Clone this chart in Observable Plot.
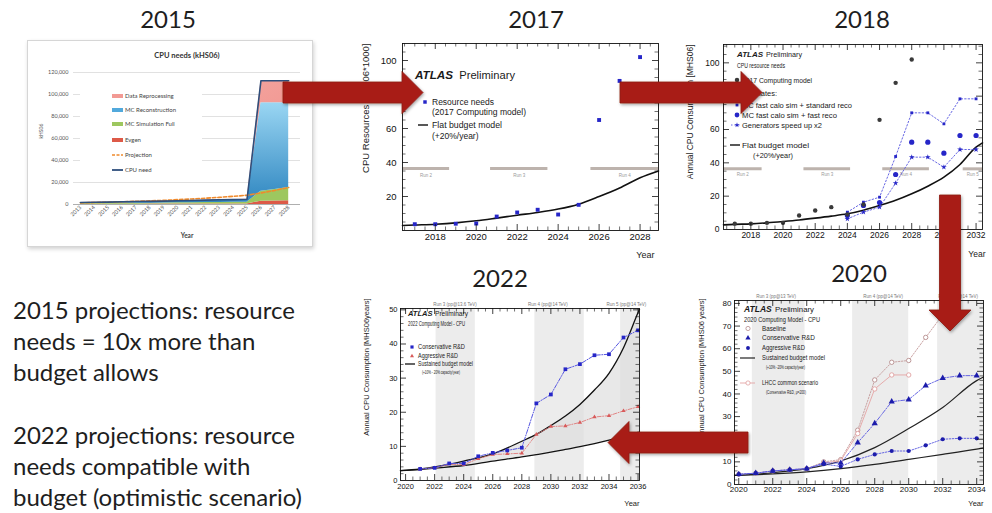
<!DOCTYPE html>
<html>
<head>
<meta charset="utf-8">
<script src="https://cdn.jsdelivr.net/npm/d3@7"></script>
<script src="https://cdn.jsdelivr.net/npm/@observablehq/plot@0.6"></script>
<style>
html, body { margin:0; padding:0; background:#fff; }
#page { position:relative; width:992px; height:513px; overflow:hidden; background:#fff; }
.ttl { position:absolute; font-family: Lato, "Open Sans", sans-serif; font-size:24px; color:#1e1e1e; transform: translate(-50%,-50%); white-space:nowrap; line-height:1; }
.note { position:absolute; left:13px; font-family: Lato, "Open Sans", sans-serif; font-size:24px; color:#1e1e1e; line-height:31px; white-space:nowrap; }
.chart { position:absolute; }
.chart svg { display:block; }
#box15 { position:absolute; left:27px; top:40px; width:286px; height:207px; box-sizing:border-box; border:1px solid #d6d6d6; box-shadow: 1px 2px 4px rgba(0,0,0,0.18); background:#fff; }
#overlay { position:absolute; left:0; top:0; }
</style>
</head>
<body>
<div id="page">
  <div class="ttl" style="left:168px;top:19px">2015</div>
  <div class="ttl" style="left:536px;top:19px">2017</div>
  <div class="ttl" style="left:862px;top:19px">2018</div>
  <div class="ttl" style="left:500px;top:278px">2022</div>
  <div class="ttl" style="left:859px;top:273px">2020</div>
  <div id="box15"></div>
  <div class="chart" id="c15" style="left:27px;top:40px"></div>
  <div class="chart" id="c17" style="left:355px;top:35px"></div>
  <div class="chart" id="c18" style="left:675px;top:35px"></div>
  <div class="chart" id="c22" style="left:350px;top:290px"></div>
  <div class="chart" id="c20" style="left:690px;top:288px"></div>
  <div class="note" style="top:294px">2015 projections: resource<br>needs = 10x more than<br>budget allows</div>
  <div class="note" style="top:419px">2022 projections: resource<br>needs compatible with<br>budget (optimistic scenario)</div>
</div>
<script>
// ================= DATA =================
// --- 2015: CPU needs (kHS06), stacked areas
const years15 = [2013,2014,2015,2016,2017,2018,2019,2020,2021,2022,2023,2024,2025,2026,2027,2028];
const evgen15 = [200,250,250,300,300,350,350,400,400,450,500,500,550,3000,3200,3500];
const mcSim15 = [600,700,700,800,900,900,1000,1100,1200,1300,1400,1500,1600,9000,10500,12000];
const mcReco15 = [800,900,1000,1100,1200,1300,1400,1500,1700,1800,1900,2000,2100,80500,78800,77000];
const reproc15 = [200,200,250,250,300,300,350,350,400,400,450,450,500,20000,20000,20000];
const projection15 = [1500,1800,2100,2500,2900,3300,3800,4400,5000,5700,6500,7400,8400,10500,12800,15500];
const yTicks15 = [0,20000,40000,60000,80000,100000,120000];
const series15 = ["Evgen","MC Simulation Full","MC Reconstruction","Data Reprocessing"];
const legend15 = ["Data Reprocessing","MC Reconstruction","MC Simulation Full","Evgen","Projection","CPU need"];

// --- 2017
const years17 = [2017,2018,2019,2020,2021,2022,2023,2024,2025,2026,2027,2028];
const needs17 = [3.7,3.7,4.0,4.1,8.2,10.6,12.2,9.4,15.1,65,88,102];
const budgetYears17 = [2016.4,2017,2018,2019,2020,2021,2022,2023,2024,2025,2026,2027,2028,2028.9];
const budget17 = [2.9,3.2,3.7,4.5,5.7,7.3,9.0,10.6,12.6,15.5,20,25,31,35];
const runs17 = [{start:2016.4,end:2018.7,label:"Run 2"},{start:2020.7,end:2023.5,label:"Run 3"},{start:2025.6,end:2028.9,label:"Run 4"}];
const runLevel17 = 36.5, runText17 = 32.6;
const xTicks17 = [2018,2020,2022,2024,2026,2028];
const yTicks17 = [20,40,60,80,100];

// --- 2018
const years18 = [2017,2018,2019,2020,2021,2022,2023,2024,2025,2026,2027,2028];
const model2017_18 = [3.5,3.5,4.0,4.0,8.4,11.4,13.4,9.0,15,65.8,88,102];
const scenYears18 = [2024,2025,2026,2027,2028,2029,2030,2031,2032];
const stdReco18 = [10.4,16.4,19.4,43.8,70,70,63.4,78.4,78.4];
const fastReco18 = [8.4,14.4,16.2,33,52.4,52.4,45.8,56.4,56.4];
const genX2_18 = [6.4,10.4,13.4,27.8,43.4,43.4,37.4,48,48];
const budgetYears18 = [2016.3,2017,2018,2019,2020,2021,2022,2023,2024,2025,2026,2027,2028,2029,2030,2031,2032,2032.4];
const budget18 = [2.8,3.1,3.4,4.0,4.8,5.7,6.8,8.0,9.4,11.6,14.4,17.5,21.4,26,31.4,39,49.4,52];
const runs18 = [{start:2016.3,end:2018.7,label:"Run 2"},{start:2021.3,end:2024.2,label:"Run 3"},{start:2026.2,end:2029.1,label:"Run 4"},{start:2031.2,end:2032.4,label:"Run 5"}];
const runLevel18 = 36.4, runText18 = 33;
const xTicks18 = [2018,2020,2022,2024,2026,2028,2030,2032];
const yTicks18 = [0,20,40,60,80,100];

// --- 2022
const years22 = [2021,2022,2023,2024,2025,2026,2027,2028,2029,2030,2031,2032,2033,2034,2035,2036];
const conservative22 = [3.4,3.7,5.0,5.0,7.1,8.1,8.8,9.6,22.6,25.2,32.6,34.1,36.7,37.0,41.9,44.0];
const aggressive22 = [3.4,3.7,4.8,4.6,6.4,7.6,7.8,8.0,13.5,15.8,16.0,17.0,18.6,19.0,20.4,21.6];
const budgetYears22 = [2019.65,2021,2022,2024,2026,2028,2029,2030,2031,2032,2033,2034,2035,2036,2036.1];
const budgetHigh22 = [2.9,3.4,4.0,5.7,7.8,11.5,13.5,16.1,18.9,22.3,26.5,31.4,38.9,49.2,50.2];
const budgetLow22 = [2.9,3.2,3.6,4.4,5.7,6.9,7.6,8.3,9.1,9.9,10.8,11.8,12.9,14.1,14.2];
const bands22 = [{start:2022.1,end:2024.8},{start:2028.9,end:2032.3},{start:2034.8,end:2036.1}];
const runTop22 = [{x:2023.4,label:"Run 3 (pp@13.6 TeV)"},{x:2029.8,label:"Run 4 (pp@14 TeV)"},{x:2035.2,label:"Run 5 (pp@14 TeV)"}];
const xTicks22 = [2020,2022,2024,2026,2028,2030,2032,2034,2036];
const yTicks22 = [0,10,20,30,40,50];

// --- 2020
const years20 = [2020,2021,2022,2023,2024,2025,2026,2027,2028,2029,2030,2031,2032,2033,2034];
const conservative20 = [4.5,5.0,6.0,6.5,7.0,9.5,9.5,18.5,27,36.6,37.5,43.7,47,48.1,48.1];
const aggressive20 = [4.5,5.0,6.0,6.5,7.0,9.0,8.0,11.1,13.3,14.8,14.8,17.3,20,20.4,20.4];
const baselineYears20 = [2020,2021,2022,2023,2024,2025,2026,2027,2028,2029,2030,2031,2032];
const baseline20 = [4.5,5.0,6.0,6.5,7.0,10,11,24,46.2,54,54.8,65,75];
const lhccYears20 = [2025,2026,2027,2028,2029,2030];
const lhcc20 = [9.5,10.5,22.5,42.2,48.4,48.4];
const budgetYears20 = [2019.75,2022,2024,2026,2028,2030,2032,2034,2034.4];
const budgetHigh20 = [4.0,5.2,7.0,10.4,16.3,24.7,34,45.9,47.5];
const budgetLow20 = [4.0,4.7,5.6,7.0,8.9,11.1,13.3,15.6,16.1];
const bands20 = [{start:2020.8,end:2023.9},{start:2026.7,end:2030.0},{start:2031.7,end:2034.4}];
const runTop20 = [{x:2022.2,label:"Run 3 (pp@13 TeV)"},{x:2028.5,label:"Run 4 (pp@14 TeV)"},{x:2032.9,label:"Run 5 (pp@14 TeV)"}];
const xTicks20 = [2020,2022,2024,2026,2028,2030,2032,2034];
const yTicks20 = [0,10,20,30,40,50,60,70,80];

// ================= HELPERS =================
const FONT = "'Liberation Sans', Arial, Helvetica, sans-serif";
const BLUE = "#2626c8", BLUE_L = "#5656e0";
const symbolMap = {circle: d3.symbolCircle, square: d3.symbolSquare, triangle: d3.symbolTriangle, star: d3.symbolStar};

function legendMark(items) {
  return (index, scales, values, dims) => {
    const g = d3.create("svg:g").attr("text-anchor", "start");
    const x0 = dims.marginLeft, y0 = dims.marginTop;
    for (const it of items) {
      const X = x0 + it.x, Y = y0 + it.y;
      if (it.kind === "text" || it.kind === "rich") {
        const t = g.append("text").attr("x", X).attr("y", Y).attr("dy", "0.35em").attr("text-anchor", "start")
          .attr("font-family", FONT).attr("font-size", it.size).attr("fill", it.color || "#1a1a1a");
        if (it.kind === "text") t.text(it.text);
        else for (const p of it.parts) {
          const s = t.append("tspan").text(p.t).attr("font-size", p.size || it.size);
          if (p.bold) s.attr("font-weight", "bold");
          if (p.italic) s.attr("font-style", "italic");
        }
        if (it.bold) t.attr("font-weight", "bold");
        if (it.italic) t.attr("font-style", "italic");
        if (it.w) t.attr("textLength", it.w).attr("lengthAdjust", "spacingAndGlyphs");
      } else if (it.kind === "line") {
        g.append("line").attr("x1", X).attr("x2", X + it.len).attr("y1", Y).attr("y2", Y)
          .attr("stroke", it.color).attr("stroke-width", it.width || 1).attr("stroke-dasharray", it.dash || null);
      } else if (it.kind === "marker") {
        g.append("path").attr("transform", `translate(${X},${Y})`).attr("d", d3.symbol(symbolMap[it.symbol], it.area || 14)())
          .attr("fill", it.fill || "none").attr("stroke", it.stroke || "none").attr("stroke-width", it.sw || 0.8);
      }
    }
    return g.node();
  };
}

function rootChart(c) {
  const W = c.width - c.mL - c.mR, H = c.height - c.mT - c.mB;
  const eq = (a, b) => Math.abs(a - b) < 1e-6;
  const inside = (v, d) => v > d[0] + 1e-6 && v < d[1] - 1e-6;
  const xMajor = c.xMajor.filter(v => inside(v, c.xDomain));
  const yMajor = c.yMajor.filter(v => inside(v, c.yDomain));
  const xMinor = d3.range(Math.floor(c.xDomain[0]), c.xDomain[1], c.xMinorStep).filter(v => inside(v, c.xDomain) && !c.xMajor.some(m => eq(m, v)));
  const yMinor = d3.range(0, c.yDomain[1], c.yMinorStep).filter(v => inside(v, c.yDomain) && !c.yMajor.some(m => eq(m, v)));
  const M = 6, m = 3.5;
  return Plot.plot({
    width: c.width, height: c.height,
    marginLeft: c.mL, marginRight: c.mR, marginTop: c.mT, marginBottom: c.mB,
    style: {background: "transparent", overflow: "visible", fontFamily: FONT, fontSize: c.tickFont + "px", color: "#111"},
    x: {domain: c.xDomain, ticks: c.xMajor, tickFormat: d => String(d), tickSize: 0, tickPadding: c.xPad, label: null},
    y: {domain: c.yDomain, ticks: c.yLabels, tickFormat: d => String(d), tickSize: 0, tickPadding: c.yPad, label: null},
    marks: [
      ...(c.back || []),
      ...c.marks,
      Plot.tickX(xMajor, {x: d => d, insetTop: H - M, strokeWidth: 0.8}),
      Plot.tickX(xMajor, {x: d => d, insetBottom: H - M, strokeWidth: 0.8}),
      Plot.tickX(xMinor, {x: d => d, insetTop: H - m, strokeWidth: 0.6}),
      Plot.tickX(xMinor, {x: d => d, insetBottom: H - m, strokeWidth: 0.6}),
      Plot.tickY(yMajor, {y: d => d, insetRight: W - M, strokeWidth: 0.8}),
      Plot.tickY(yMajor, {y: d => d, insetLeft: W - M, strokeWidth: 0.8}),
      Plot.tickY(yMinor, {y: d => d, insetRight: W - m, strokeWidth: 0.6}),
      Plot.tickY(yMinor, {y: d => d, insetLeft: W - m, strokeWidth: 0.6}),
      Plot.frame({stroke: "#111", strokeWidth: 0.9}),
      Plot.text([c.yTitle], {frameAnchor: "top-left", rotate: -90, textAnchor: "end", dx: c.yTitleDx, dy: c.yTitleDy || 0, fontSize: c.yTitleSize, fill: "#222"}),
      Plot.text(["Year"], {frameAnchor: "bottom-right", textAnchor: "end", dx: c.yearDx || 0, dy: c.yearDy, fontSize: c.yearSize, fill: "#222"}),
      legendMark(c.legend)
    ]
  });
}

// ================= 2015 =================
(function () {
  const rows = [];
  years15.forEach((yr, i) => {
    rows.push({year: yr, series: "Evgen", value: evgen15[i]});
    rows.push({year: yr, series: "MC Simulation Full", value: mcSim15[i]});
    rows.push({year: yr, series: "MC Reconstruction", value: mcReco15[i]});
    rows.push({year: yr, series: "Data Reprocessing", value: reproc15[i]});
  });
  const total15 = years15.map((yr, i) => evgen15[i] + mcSim15[i] + mcReco15[i] + reproc15[i]);
  const defs = () => {
    const d = d3.create("svg:defs");
    const g1 = d.append("linearGradient").attr("id", "g15reco").attr("x1", 0).attr("y1", 0).attr("x2", 0).attr("y2", 1);
    g1.append("stop").attr("offset", "0%").attr("stop-color", "#9ad6f3");
    g1.append("stop").attr("offset", "100%").attr("stop-color", "#2f86c0");
    const g2 = d.append("linearGradient").attr("id", "g15repro").attr("x1", 0).attr("y1", 0).attr("x2", 1).attr("y2", 1);
    g2.append("stop").attr("offset", "0%").attr("stop-color", "#f7b2ad");
    g2.append("stop").attr("offset", "100%").attr("stop-color", "#ee8a84");
    return d.node();
  };
  const swatch = {"Data Reprocessing": "#f29a94", "MC Reconstruction": "#52a9dc", "MC Simulation Full": "#9dc75f", "Evgen": "#dd5a48"};
  const legendBox = () => {
    const g = d3.create("svg:g").attr("text-anchor", "start");
    g.append("rect").attr("x", 53).attr("y", 46).attr("width", 122).attr("height", 94).attr("fill", "#fff");
    legend15.forEach((name, i) => {
      const y = [56, 70, 84, 100, 115, 130][i];
      if (name === "Projection") {
        g.append("line").attr("x1", 85).attr("x2", 96).attr("y1", y).attr("y2", y).attr("stroke", "#f08a2c").attr("stroke-width", 1.6).attr("stroke-dasharray", "3,1.5");
      } else if (name === "CPU need") {
        g.append("line").attr("x1", 85).attr("x2", 96).attr("y1", y).attr("y2", y).attr("stroke", "#2e4f7c").attr("stroke-width", 1.8);
      } else {
        g.append("rect").attr("x", 85).attr("y", y - 2).attr("width", 11).attr("height", 4).attr("fill", swatch[name]);
      }
      g.append("text").attr("x", 98).attr("y", y).attr("dy", "0.35em").attr("text-anchor", "start").attr("font-size", 6).attr("fill", "#444")
        .attr("font-family", "Lato, sans-serif").text(name);
    });
    return g.node();
  };
  const p = Plot.plot({
    width: 286, height: 207, marginTop: 32, marginBottom: 43, marginLeft: 46, marginRight: 13,
    style: {background: "transparent", overflow: "visible", fontFamily: "Lato, 'Open Sans', sans-serif", fontSize: "5.5px", color: "#555"},
    x: {domain: [2012.5, 2028.85], ticks: years15, tickFormat: d => String(d), tickRotate: -45, tickSize: 0, tickPadding: 2, label: null},
    y: {domain: [0, 120000], ticks: yTicks15, tickFormat: d3.format(","), tickSize: 0, tickPadding: 5, label: null},
    color: {domain: series15, range: ["#dd5a48", "#9dc75f", "url(#g15reco)", "url(#g15repro)"]},
    marks: [
      defs,
      Plot.ruleY(yTicks15.filter(v => v > 0), {stroke: "#d9d9d9", strokeWidth: 0.8}),
      legendBox,
      Plot.areaY(rows, {x: "year", y: "value", fill: "series", order: series15}),
      Plot.ruleY([0], {stroke: "#9a9a9a", strokeWidth: 0.8}),
      Plot.lineY(projection15, {x: years15, y: projection15, stroke: "#f08a2c", strokeWidth: 1.6, strokeDasharray: "3.5,2"}),
      Plot.lineY(total15, {x: years15, y: total15, stroke: "#2e4f7c", strokeWidth: 1.6}),
      Plot.text(["CPU needs (kHS06)"], {frameAnchor: "top", dy: -20, fontSize: 7.5, fontWeight: "bold", fill: "#333"}),
      Plot.text(["Year"], {frameAnchor: "bottom", dy: 33, fontSize: 6.5, fontWeight: "bold", fill: "#444"}),
      Plot.text(["kHS06"], {frameAnchor: "left", rotate: -90, dx: -32, fontSize: 5, fill: "#555"})
    ]
  });
  document.getElementById("c15").append(p);
})();

// ================= 2017 =================
document.getElementById("c17").append(rootChart({
  width: 310, height: 227, mL: 47, mR: 7, mT: 8, mB: 32,
  xDomain: [2016.4, 2028.9], yDomain: [0, 110],
  xMajor: xTicks17, yMajor: [0, ...yTicks17], yLabels: yTicks17,
  xMinorStep: 0.5, yMinorStep: 5, tickFont: 9.5, xPad: 3, yPad: 6,
  yTitle: "CPU Resources [kHS06*1000]", yTitleDx: -40, yTitleSize: 9.5,
  yearDx: -4, yearDy: 27, yearSize: 9,
  marks: [
    Plot.ruleY(runs17, {y: runLevel17, x1: "start", x2: "end", stroke: "#bdb3ad", strokeWidth: 3}),
    Plot.text(runs17, {x: d => (d.start + d.end) / 2, y: runText17, text: "label", fontSize: 4.5, fill: "#999"}),
    Plot.line(budget17, {x: budgetYears17, y: budget17, stroke: "#111", strokeWidth: 1.6, curve: "monotone-x"}),
    Plot.dot(needs17, {x: years17, y: needs17, symbol: "square", fill: BLUE, r: 2.2})
  ],
  legend: [
    {kind: "rich", x: 13, y: 32, size: 10.5, parts: [{t: "ATLAS", bold: true, italic: true, size: 11}, {t: "  Preliminary"}], w: 100},
    {kind: "marker", x: 23, y: 59, symbol: "square", fill: BLUE, area: 12},
    {kind: "text", x: 30, y: 59, size: 8.5, text: "Resource needs"},
    {kind: "text", x: 30, y: 69, size: 8.5, text: "(2017 Computing model)", w: 94},
    {kind: "line", x: 16, y: 82, len: 10, color: "#111", width: 1.4},
    {kind: "text", x: 30, y: 82, size: 8.5, text: "Flat budget model", w: 70},
    {kind: "text", x: 30, y: 93, size: 8.5, text: "(+20%/year)"}
  ]
}));

// ================= 2018 =================
document.getElementById("c18").append(rootChart({
  width: 315, height: 227, mL: 48, mR: 8, mT: 9, mB: 33,
  xDomain: [2016.3, 2032.4], yDomain: [0, 111],
  xMajor: xTicks18, yMajor: yTicks18, yLabels: yTicks18,
  xMinorStep: 0.5, yMinorStep: 5, tickFont: 8.5, xPad: 2.5, yPad: 4,
  yTitle: "Annual CPU Consumption [MHS06]", yTitleDx: -37, yTitleSize: 8.5,
  yearDx: 3, yearDy: 27, yearSize: 8.5,
  marks: [
    Plot.ruleY(runs18, {y: runLevel18, x1: "start", x2: "end", stroke: "#bdb3ad", strokeWidth: 3}),
    Plot.text(runs18, {x: d => (d.start + d.end) / 2, y: runText18, text: "label", fontSize: 4.5, fill: "#999"}),
    Plot.line(budget18, {x: budgetYears18, y: budget18, stroke: "#111", strokeWidth: 1.6, curve: "monotone-x"}),
    Plot.line(stdReco18, {x: scenYears18, y: stdReco18, stroke: BLUE_L, strokeWidth: 0.9, strokeDasharray: "1.5,2"}),
    Plot.line(genX2_18, {x: scenYears18, y: genX2_18, stroke: BLUE_L, strokeWidth: 0.9, strokeDasharray: "1.5,2"}),
    Plot.dot(stdReco18, {x: scenYears18, y: stdReco18, symbol: "square", fill: BLUE, r: 1.6}),
    Plot.dot(fastReco18, {x: scenYears18, y: fastReco18, symbol: "circle", fill: BLUE, r: 2.6}),
    Plot.dot(genX2_18, {x: scenYears18, y: genX2_18, symbol: "star", fill: BLUE, r: 1.8}),
    Plot.dot(model2017_18, {x: years18, y: model2017_18, symbol: "circle", fill: "#3a3a3a", r: 2.2})
  ],
  legend: [
    {kind: "text", x: 14, y: 10.5, size: 8, bold: true, italic: true, text: "ATLAS"},
    {kind: "text", x: 43, y: 10.5, size: 8, text: "Preliminary", w: 36},
    {kind: "text", x: 14, y: 21.5, size: 7.5, text: "CPU resource needs", w: 48},
    {kind: "marker", x: 14, y: 36, symbol: "circle", fill: "#3a3a3a", area: 16},
    {kind: "text", x: 19, y: 36, size: 7.5, text: "2017 Computing model", w: 70},
    {kind: "text", x: 19, y: 49, size: 7.5, text: "Estimates:"},
    {kind: "marker", x: 14, y: 61, symbol: "square", fill: BLUE, area: 8},
    {kind: "text", x: 19, y: 61, size: 7.5, text: "MC fast calo sim + standard reco", w: 110},
    {kind: "marker", x: 14, y: 71, symbol: "circle", fill: BLUE, area: 18},
    {kind: "text", x: 19, y: 71, size: 7.5, text: "MC fast calo sim + fast reco", w: 95},
    {kind: "line", x: 8, y: 81, len: 10, color: BLUE_L, width: 0.9, dash: "1.5,2"},
    {kind: "marker", x: 14, y: 81, symbol: "star", fill: BLUE, area: 8},
    {kind: "text", x: 19, y: 81, size: 7.5, text: "Generators speed up x2", w: 80},
    {kind: "line", x: 7, y: 101, len: 10, color: "#111", width: 1.4},
    {kind: "text", x: 19, y: 101, size: 7.5, text: "Flat budget model", w: 67},
    {kind: "text", x: 30, y: 111, size: 7.5, text: "(+20%/year)", w: 40}
  ]
}));

// ================= 2022 =================
document.getElementById("c22").append(rootChart({
  width: 295, height: 222, mL: 50, mR: 6, mT: 18, mB: 32,
  xDomain: [2019.65, 2036.1], yDomain: [0, 50.4],
  xMajor: xTicks22, yMajor: yTicks22, yLabels: yTicks22,
  xMinorStep: 0.5, yMinorStep: 2, tickFont: 7.5, xPad: 3, yPad: 3,
  yTitle: "Annual CPU Consumption [MHS06years]", yTitleDx: -37, yTitleDy: -10, yTitleSize: 7.5,
  yearDx: 0, yearDy: 25, yearSize: 7.5,
  back: [
    Plot.rect(bands22, {x1: "start", x2: "end", fill: "#ececec"}),
    Plot.areaY(budgetHigh22, {x: budgetYears22, y1: budgetLow22, y2: budgetHigh22, fill: "#dedede", fillOpacity: 0.7, curve: "monotone-x"})
  ],
  marks: [
    Plot.text(runTop22, {x: "x", frameAnchor: "top", dy: -6, text: "label", fontSize: 4.5, fill: "#777"}),
    Plot.line(budgetHigh22, {x: budgetYears22, y: budgetHigh22, stroke: "#111", strokeWidth: 1.3, curve: "monotone-x"}),
    Plot.line(budgetLow22, {x: budgetYears22, y: budgetLow22, stroke: "#111", strokeWidth: 1.3, curve: "monotone-x"}),
    Plot.line(aggressive22, {x: years22, y: aggressive22, stroke: "#e07a7a", strokeWidth: 0.9, strokeDasharray: "4,1.5,1,1.5"}),
    Plot.dot(aggressive22, {x: years22, y: aggressive22, symbol: "triangle", fill: "#d85a5a", r: 1.6}),
    Plot.line(conservative22, {x: years22, y: conservative22, stroke: BLUE_L, strokeWidth: 1, strokeDasharray: "4,1.5,1,1.5"}),
    Plot.dot(conservative22, {x: years22, y: conservative22, symbol: "square", fill: BLUE, r: 2.1})
  ],
  legend: [
    {kind: "text", x: 8, y: 5, size: 7.5, bold: true, italic: true, text: "ATLAS"},
    {kind: "text", x: 35, y: 5, size: 7.5, text: "Preliminary", w: 33},
    {kind: "text", x: 8, y: 15.5, size: 6.5, text: "2022 Computing Model - CPU", w: 57},
    {kind: "marker", x: 12, y: 39, symbol: "square", fill: BLUE, area: 10},
    {kind: "text", x: 18, y: 39, size: 7, text: "Conservative R&D", w: 47},
    {kind: "marker", x: 12, y: 48, symbol: "triangle", fill: "#d85a5a", area: 7},
    {kind: "text", x: 18, y: 48, size: 7, text: "Aggressive R&D", w: 40},
    {kind: "line", x: 5, y: 56, len: 10, color: "#111", width: 1.3},
    {kind: "text", x: 18, y: 56, size: 7, text: "Sustained budget model", w: 55},
    {kind: "text", x: 22, y: 64, size: 4.5, text: "(+10% - 20% capacity/year)", w: 38}
  ]
}));

// ================= 2020 =================
document.getElementById("c20").append(rootChart({
  width: 300, height: 225, mL: 44, mR: 7, mT: 12, mB: 29,
  xDomain: [2019.75, 2034.4], yDomain: [0, 81.3],
  xMajor: xTicks20, yMajor: yTicks20, yLabels: yTicks20,
  xMinorStep: 0.5, yMinorStep: 2, tickFont: 8, xPad: 2, yPad: 3,
  yTitle: "Annual CPU Consumption [MHS06 years]", yTitleDx: -36, yTitleDy: -2, yTitleSize: 7.5,
  yearDx: 0, yearDy: 21, yearSize: 7.5,
  back: [
    Plot.rect(bands20, {x1: "start", x2: "end", fill: "#ececec"})
  ],
  marks: [
    Plot.text(runTop20, {x: "x", frameAnchor: "top", dy: -6, text: "label", fontSize: 4.5, fill: "#777"}),
    Plot.line(budgetHigh20, {x: budgetYears20, y: budgetHigh20, stroke: "#222", strokeWidth: 1.2, curve: "monotone-x"}),
    Plot.line(budgetLow20, {x: budgetYears20, y: budgetLow20, stroke: "#222", strokeWidth: 1.2, curve: "monotone-x"}),
    Plot.line(baseline20, {x: baselineYears20, y: baseline20, stroke: "#c49a9a", strokeWidth: 0.9, strokeDasharray: "1.5,1.5"}),
    Plot.dot(baseline20, {x: baselineYears20, y: baseline20, symbol: "circle", fill: "#fff", stroke: "#b58c8c", strokeWidth: 0.9, r: 2.2}),
    Plot.line(lhcc20, {x: lhccYears20, y: lhcc20, stroke: "#e4a4a4", strokeWidth: 0.9}),
    Plot.dot(lhcc20, {x: lhccYears20, y: lhcc20, symbol: "circle", fill: "#fff", stroke: "#e0a0a0", strokeWidth: 0.9, r: 2.2}),
    Plot.line(conservative20, {x: years20, y: conservative20, stroke: BLUE_L, strokeWidth: 0.9, strokeDasharray: "4,1.5,1,1.5"}),
    Plot.dot(conservative20, {x: years20, y: conservative20, symbol: "triangle", fill: "#1c1cab", r: 2.3}),
    Plot.line(aggressive20, {x: years20, y: aggressive20, stroke: BLUE_L, strokeWidth: 0.9, strokeDasharray: "1.5,1.5"}),
    Plot.dot(aggressive20, {x: years20, y: aggressive20, symbol: "circle", fill: "#1c1cab", r: 2.1})
  ],
  legend: [
    {kind: "text", x: 10, y: 9.5, size: 8.5, bold: true, italic: true, text: "ATLAS"},
    {kind: "text", x: 41, y: 9.5, size: 8, text: "Preliminary", w: 39},
    {kind: "text", x: 10, y: 19.5, size: 7, text: "2020 Computing Model - CPU", w: 76},
    {kind: "marker", x: 14, y: 28.5, symbol: "circle", fill: "#fff", stroke: "#b58c8c", area: 14},
    {kind: "text", x: 28, y: 28.5, size: 7, text: "Baseline", w: 24},
    {kind: "marker", x: 14, y: 38, symbol: "triangle", fill: "#1c1cab", area: 12},
    {kind: "text", x: 28, y: 38, size: 7, text: "Conservative R&D", w: 53},
    {kind: "marker", x: 14, y: 48, symbol: "circle", fill: "#1c1cab", area: 12},
    {kind: "text", x: 28, y: 48, size: 7, text: "Aggressive R&D", w: 43},
    {kind: "line", x: 6, y: 58, len: 15, color: "#222", width: 1.2},
    {kind: "text", x: 28, y: 58, size: 7, text: "Sustained budget model", w: 63},
    {kind: "text", x: 32, y: 67, size: 4.5, text: "(+10% -20% capacity/year)", w: 39},
    {kind: "line", x: 6, y: 83, len: 15, color: "#e4a4a4", width: 0.9},
    {kind: "marker", x: 14, y: 83, symbol: "circle", fill: "#fff", stroke: "#e0a0a0", area: 14},
    {kind: "text", x: 28, y: 83, size: 7, text: "LHCC common scenario", w: 56},
    {kind: "text", x: 32, y: 92, size: 4.5, text: "(Conservative R&D, μ=200)", w: 40}
  ]
}));

// ================= ARROWS (slide decoration) =================
(function () {
  const arrows = [
    {x0: 283, y0: 92.5, x1: 423, y1: 92.5},
    {x0: 620, y0: 92.5, x1: 762, y1: 92.5},
    {x0: 950, y0: 195, x1: 950, y1: 331},
    {x0: 748, y0: 442.5, x1: 608, y1: 442.5}
  ];
  const shaft = 21, head = 42, headLen = 21;
  const svg = d3.select("#page").append("svg").attr("id", "overlay").attr("width", 992).attr("height", 513);
  const defs = svg.append("defs");
  const f = defs.append("filter").attr("id", "ashadow").attr("x", "-20%").attr("y", "-40%").attr("width", "140%").attr("height", "180%");
  f.append("feDropShadow").attr("dx", 1).attr("dy", 1.5).attr("stdDeviation", 1.5).attr("flood-color", "#000").attr("flood-opacity", 0.35);
  for (const a of arrows) {
    const dx = a.x1 - a.x0, dy = a.y1 - a.y0, L = Math.hypot(dx, dy), ux = dx / L, uy = dy / L, px = -uy, py = ux;
    const hb = L - headLen;
    const pts = [[0, shaft / 2], [hb, shaft / 2], [hb, head / 2], [L, 0], [hb, -head / 2], [hb, -shaft / 2], [0, -shaft / 2]]
      .map(([s, t]) => [a.x0 + ux * s + px * t, a.y0 + uy * s + py * t].join(",")).join(" ");
    svg.append("polygon").attr("points", pts).attr("fill", "#a81f16").attr("stroke", "#8c1810").attr("stroke-width", 0.8).attr("filter", "url(#ashadow)");
  }
})();
</script>
</body>
</html>
